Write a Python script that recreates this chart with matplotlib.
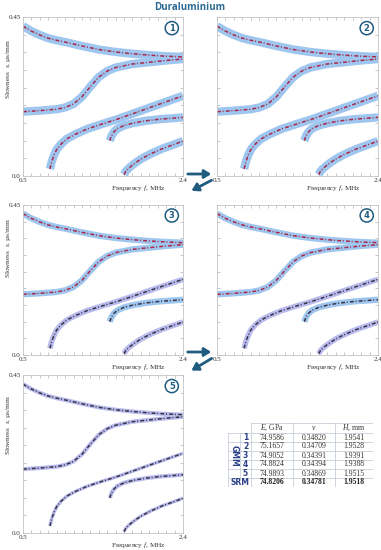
import numpy as np
import matplotlib
matplotlib.use('Agg')
import matplotlib.pyplot as plt

plt.rcParams['font.family'] = ['Liberation Serif', 'DejaVu Serif']
plt.rcParams['mathtext.fontset'] = 'custom'
plt.rcParams['mathtext.rm'] = 'Liberation Serif'
plt.rcParams['mathtext.it'] = 'Liberation Serif:italic'

# dispersion modes (frequency MHz, slowness us/mm)
mode_a_f = [0.5, 0.6, 0.7, 0.8, 0.9, 1.0, 1.2, 1.4, 1.6, 1.8, 2.0, 2.2, 2.4]
mode_a_s = [0.424, 0.410, 0.399, 0.390, 0.384, 0.379, 0.368, 0.358, 0.351, 0.346, 0.342, 0.339, 0.337]
mode_b_f = [0.5, 0.7, 0.9, 1.0, 1.1, 1.2, 1.3, 1.4, 1.5, 1.6, 1.8, 2.0, 2.2, 2.4]
mode_b_s = [0.182, 0.185, 0.189, 0.194, 0.204, 0.224, 0.253, 0.280, 0.297, 0.307, 0.317, 0.322, 0.327, 0.331]
mode_c_f = [0.82, 0.84, 0.87, 0.90, 0.95, 1.02, 1.12, 1.26, 1.45, 1.61, 1.8, 2.01, 2.2, 2.4]
mode_c_s = [0.020, 0.040, 0.060, 0.075, 0.090, 0.105, 0.118, 0.133, 0.148, 0.160, 0.176, 0.194, 0.210, 0.227]
mode_d_f = [1.53, 1.55, 1.58, 1.62, 1.70, 1.81, 1.95, 2.13, 2.30, 2.4]
mode_d_s = [0.100, 0.113, 0.125, 0.134, 0.143, 0.150, 0.156, 0.161, 0.164, 0.166]
mode_e_f = [1.70, 1.72, 1.75, 1.81, 1.90, 2.01, 2.15, 2.30, 2.4]
mode_e_s = [0.004, 0.013, 0.021, 0.033, 0.048, 0.062, 0.077, 0.090, 0.099]
modes = [(mode_a_f, mode_a_s), (mode_b_f, mode_b_s), (mode_c_f, mode_c_s),
         (mode_d_f, mode_d_s), (mode_e_f, mode_e_s)]

# table
row_ids = ['1', '2', '3', '4', '5']
e_gpa = ['74.9586', '75.1657', '74.9052', '74.8824', '74.9893']
nu = ['0.34820', '0.34709', '0.34391', '0.34394', '0.34869']
h_mm = ['1.9541', '1.9528', '1.9391', '1.9388', '1.9515']
srm = ['74.8206', '0.34781', '1.9518']

blue = '#9ec6ee'
lav = '#b9bbee'
red = '#b0284a'
dark = '#3a3344'
teal = '#1f5c80'

# per panel: band widths, band colours, dot colours (one entry per mode)
panels = [
    dict(num='1', w=[6, 6, 6, 6, 6], bc=[blue] * 5, dc=[red] * 5),
    dict(num='2', w=[6, 6, 6, 6, 6], bc=[blue] * 5, dc=[red] * 5),
    dict(num='3', w=[4.5, 4.5, 4, 4.5, 4], bc=[blue, blue, lav, blue, lav], dc=[red, red, dark, dark, dark]),
    dict(num='4', w=[4.5, 4.5, 4, 4.5, 4], bc=[blue, blue, lav, blue, lav], dc=[red, red, dark, dark, dark]),
    dict(num='5', w=[3, 3, 2.5, 3, 2.5], bc=[lav] * 5, dc=[dark] * 5),
]

W, H = 381, 550
fig = plt.figure(figsize=(W / 100, H / 100), dpi=100)

boxes = [(23, 17, 160, 159), (217, 17, 161, 159),
         (23, 205, 160, 150), (217, 205, 161, 150),
         (23, 375, 160, 158)]
label_y = [0.67, 0.67, 0.71, 0.71, 0.68]

for i, (p, (x0, y0, bw, bh)) in enumerate(zip(panels, boxes)):
    ax = fig.add_axes([x0 / W, 1 - (y0 + bh) / H, bw / W, bh / H])
    for k, (f, s) in enumerate(modes):
        ax.plot(f, s, '-', lw=p['w'][k], color=p['bc'][k], solid_capstyle='butt', zorder=1)
        ax.plot(f, s, lw=1.1, color=p['dc'][k], ls=(0, (2.5, 1.2, 0.6, 1.5)), zorder=2)
        ax.plot(f, s, lw=0.5, color=dark, ls=(1, (0.6, 3.5)), alpha=0.5, zorder=2)
    ax.set_xlim(0.5, 2.4)
    ax.set_ylim(0, 0.45)
    xt = np.round(np.arange(0.5, 2.41, 0.1), 2)
    yt = np.round(np.arange(0, 0.451, 0.05), 2)
    ax.set_xticks(xt)
    ax.set_xticklabels(['0.5'] + [''] * (len(xt) - 2) + ['2.4'])
    ax.set_yticks(yt)
    if i % 2 == 0:
        ax.set_yticklabels(['0.0'] + [''] * (len(yt) - 2) + ['0.45'])
        ax.set_ylabel('Slowness  $s$, µs/mm', fontsize=5.2, color='#333333')
        ax.yaxis.set_label_coords(-0.065, label_y[i])
    else:
        ax.set_yticklabels([])
    ax.set_xlabel('Frequency $f$, MHz', fontsize=5.2, color='#333333')
    ax.xaxis.set_label_coords(0.72, -0.045)
    ax.tick_params(direction='in', length=2, width=0.5, color='#b0b0b0', labelsize=5,
                   labelcolor='#333333', top=True, right=True, pad=1.5)
    for sp in ax.spines.values():
        sp.set_color('#c4c4c4')
        sp.set_linewidth(0.6)
    ax.text(0.93, 0.93, p['num'], transform=ax.transAxes, ha='center', va='center',
            fontsize=6, fontweight='bold', color=teal, family='DejaVu Sans',
            bbox=dict(boxstyle='circle,pad=0.25', fc='white', ec=teal, lw=1.1))

fig.text(190 / W, 1 - 7 / H, 'Duraluminium', ha='center', va='center', fontsize=7,
         fontweight='bold', color='#2b6a94', family='Open Sans')

# arrows between panels
for ya, yb, yc in [(174, 179, 192), (352, 357, 372)]:
    fig.add_artist(matplotlib.patches.FancyArrowPatch((185, H - ya), (214, H - ya), transform=None,
                   arrowstyle='-|>,head_length=4,head_width=2.5', lw=2, color=teal, mutation_scale=1))
    fig.add_artist(matplotlib.patches.FancyArrowPatch((214, H - yb), (189, H - yc), transform=None,
                   arrowstyle='-|>,head_length=4,head_width=2.5', lw=2, color=teal, mutation_scale=1))

# table
tx0, ty0, tw, th = 228, 423, 145, 64
tax = fig.add_axes([tx0 / W, 1 - (ty0 + th) / H, tw / W, th / H])
tax.set_xlim(0, tw)
tax.set_ylim(th, 0)
tax.axis('off')
cols = [0, 12, 23, 65, 107, 145]
rows = [0, 10, 19, 28, 37, 46, 55, 64]
lc = '#c6ceda'
for r in rows:
    x_start = 0 if r > 0 else cols[2]
    tax.plot([x_start, tw], [r, r], color=lc, lw=0.6)
for c in cols:
    y_top = 0 if c >= cols[2] else rows[1]
    y_bot = rows[6] if c == cols[1] else th
    tax.plot([c, c], [y_top, y_bot], color=lc, lw=0.6)
heads = ['$E$, GPa', r'$\nu$', '$H$, mm']
for j, hd in enumerate(heads):
    tax.text((cols[j + 2] + cols[j + 3]) / 2, rows[0] + 5, hd, ha='center', va='center', fontsize=5.5, color='#333333')
for k in range(5):
    yc = (rows[k + 1] + rows[k + 2]) / 2
    tax.text((cols[1] + cols[2]) / 2, yc, row_ids[k], ha='center', va='center', fontsize=5.5,
             fontweight='bold', color='#2a3f8a', family='DejaVu Sans')
    for j, v in enumerate([e_gpa[k], nu[k], h_mm[k]]):
        tax.text((cols[j + 2] + cols[j + 3]) / 2, yc, v, ha='center', va='center', fontsize=5.5, color='#333333')
tax.text((cols[0] + cols[1]) / 2, (rows[1] + rows[6]) / 2, 'GMM', rotation=270, ha='center', va='center',
         fontsize=5.5, fontweight='bold', color='#2a3f8a', family='DejaVu Sans')
yc = (rows[6] + rows[7]) / 2
tax.text((cols[0] + cols[2]) / 2, yc, 'SRM', ha='center', va='center', fontsize=5.5,
         fontweight='bold', color='#2a3f8a', family='DejaVu Sans')
for j, v in enumerate(srm):
    tax.text((cols[j + 2] + cols[j + 3]) / 2, yc, v, ha='center', va='center', fontsize=5.5,
             fontweight='bold', color='#222222')

fig.savefig('out.png', dpi=100)
